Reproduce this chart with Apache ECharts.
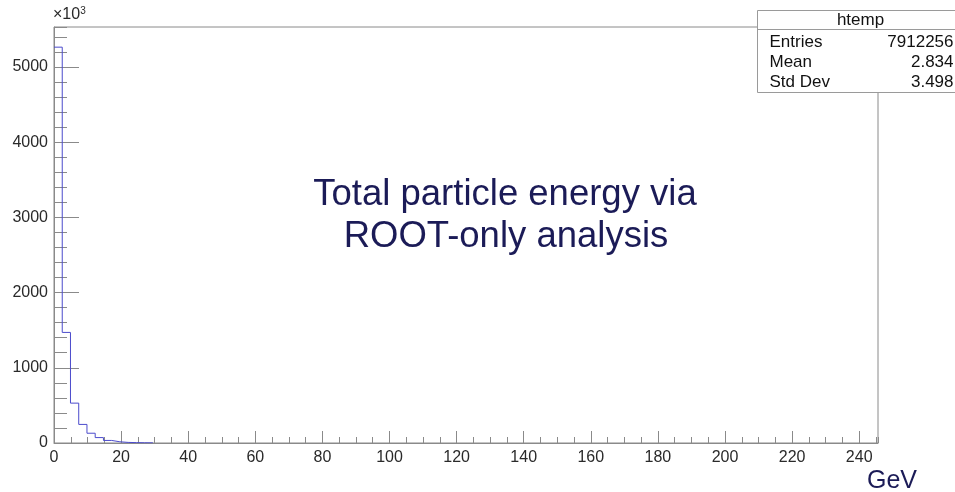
<!DOCTYPE html>
<html>
<head>
<meta charset="utf-8">
<script src="https://cdn.jsdelivr.net/npm/echarts@6/dist/echarts.min.js"></script>
<style>
    html, body { margin: 0; padding: 0; background: #fff; }
    #main { width: 955px; height: 492px; }
</style>
</head>
<body>
<div id="main"></div>
<script>
    // histogram (htemp), counts in units of 10^3 per bin
    const xMin = 0;
    const xMax = 245.6;
    const binWidth = 2.456;
    const binCounts = [5262, 1470, 530, 247, 130, 72, 34, 16, 8, 5, 3, 2];

    const yMax = 5530;
    const statsTitle = 'htemp';
    const statsNames = ['Entries', 'Mean', 'Std Dev'];
    const statsValues = ['7912256', '2.834', '3.498'];
    const titleLines = ['Total particle energy via', 'ROOT-only analysis'];
    const xUnit = 'GeV';

    const axisGrey = '#8a8a8a';
    const labelColor = '#2a2a2a';
    const navy = '#1b1b57';
    const font = 'Liberation Sans, Arial, sans-serif';

    // step points: left edge of each bin, then close at the last right edge
    let histData = [];
    binCounts.forEach(function (c, i) {
        histData.push([xMin + i * binWidth, c]);
    });
    histData.push([xMin + binCounts.length * binWidth, 0]);

    var myChart = echarts.init(document.getElementById('main'));

    const labelFont = { fontFamily: font, fontSize: 16, color: labelColor };
    const plain = function (v) { return String(v); };

    // stats box rows
    let statsTexts = [];
    statsNames.forEach(function (name, i) {
        statsTexts.push({ type: 'text', x: 12, y: 32 + i * 20, style: { text: name, verticalAlign: 'middle', fontFamily: font, fontSize: 17, fill: '#111' } });
        statsTexts.push({ type: 'text', x: 196, y: 32 + i * 20, style: { text: statsValues[i], align: 'right', verticalAlign: 'middle', fontFamily: font, fontSize: 17, fill: '#111' } });
    });

    let option = {
        animation: false,
        grid: {
            left: 54, top: 27, right: 77, bottom: 49,
            show: true, borderColor: axisGrey, borderWidth: 1, backgroundColor: 'transparent'
        },
        xAxis: [
            {
                type: 'value', min: xMin, max: xMax, interval: 20,
                axisLine: { lineStyle: { color: axisGrey } },
                axisTick: { inside: true, length: 12, lineStyle: { color: axisGrey } },
                axisLabel: Object.assign({ margin: 7, showMaxLabel: false, formatter: plain }, labelFont),
                splitLine: { show: false }
            },
            {
                type: 'value', min: xMin, max: xMax, interval: 5, position: 'bottom',
                axisLine: { show: false },
                axisTick: { inside: true, length: 6, lineStyle: { color: axisGrey } },
                axisLabel: { show: false },
                splitLine: { show: false }
            }
        ],
        yAxis: [
            {
                type: 'value', min: 0, max: yMax, interval: 1000,
                axisLine: { show: true, lineStyle: { color: axisGrey } },
                axisTick: { show: true, inside: true, length: 25, lineStyle: { color: axisGrey } },
                axisLabel: Object.assign({ margin: 6, showMaxLabel: false, formatter: plain }, labelFont),
                splitLine: { show: false }
            },
            {
                type: 'value', min: 0, max: yMax, interval: 200, position: 'left',
                axisLine: { show: false },
                axisTick: { show: true, inside: true, length: 13, lineStyle: { color: axisGrey } },
                axisLabel: { show: false },
                splitLine: { show: false }
            }
        ],
        series: [
            {
                name: statsTitle,
                type: 'line',
                step: 'end',
                xAxisIndex: 0,
                yAxisIndex: 0,
                data: histData,
                symbol: 'none',
                lineStyle: { color: '#4b4bcc', width: 1 }
            }
        ],
        graphic: [
            {
                type: 'text', left: 53, top: 6,
                style: {
                    text: '×10{sup|3}',
                    fontFamily: font, fontSize: 16, fill: labelColor,
                    rich: { sup: { fontSize: 10, verticalAlign: 'top', padding: [0, 0, 7, 0], fontFamily: font, fill: labelColor } }
                }
            },
            {
                type: 'group', left: 755, top: 10,
                children: [
                    { type: 'rect', shape: { x: 0, y: 0, width: 220, height: 82 }, style: { fill: '#fff', stroke: '#9a9a9a', lineWidth: 1 } },
                    { type: 'line', shape: { x1: 0, y1: 19, x2: 220, y2: 19 }, style: { stroke: '#9a9a9a', lineWidth: 1 } },
                    { type: 'text', x: 103, y: 10, style: { text: statsTitle, align: 'center', verticalAlign: 'middle', fontFamily: font, fontSize: 17, fill: '#111' } }
                ].concat(statsTexts)
            },
            {
                type: 'text', x: 505, y: 195,
                style: { text: titleLines[0], align: 'center', verticalAlign: 'middle', fontFamily: font, fontSize: 36.5, fill: navy }
            },
            {
                type: 'text', x: 506, y: 237,
                style: { text: titleLines[1], align: 'center', verticalAlign: 'middle', fontFamily: font, fontSize: 36.5, fill: navy }
            },
            {
                type: 'text', x: 892, y: 481,
                style: { text: xUnit, align: 'center', verticalAlign: 'middle', fontFamily: font, fontSize: 25, fill: navy }
            }
        ]
    };
    myChart.setOption(option);
</script>
</body>
</html>
